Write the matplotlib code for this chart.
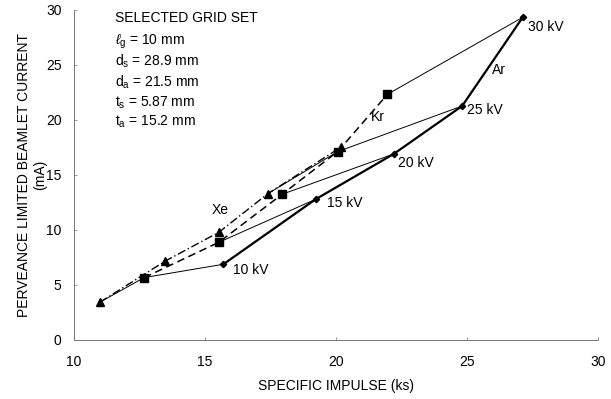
import matplotlib
matplotlib.use("Agg")
import matplotlib.pyplot as plt

plt.rcParams['font.family'] = ['Liberation Sans', 'DejaVu Sans']
plt.rcParams['mathtext.fontset'] = 'custom'
plt.rcParams['mathtext.rm'] = 'Liberation Sans'
plt.rcParams['mathtext.it'] = 'Liberation Sans:italic'

# Beam voltages and specific impulse / perveance-limited current per gas
voltages = ["10 kV", "15 kV", "20 kV", "25 kV", "30 kV"]
ar_isp = [15.70, 19.22, 22.20, 24.81, 27.12]
ar_cur = [6.88, 12.79, 16.91, 21.27, 29.33]
kr_isp = [12.68, 15.53, 17.94, 20.06, 21.96]
kr_cur = [5.67, 8.88, 13.24, 17.12, 22.33]
xe_isp = [10.99, 13.49, 15.53, 17.40, 20.20]
xe_cur = [3.43, 7.18, 9.79, 13.30, 17.55]

grid_lines = ["SELECTED GRID SET",
              r"$\ell_{\mathrm{g}}$ = 10 mm",
              r"d$_{\mathrm{s}}$ = 28.9 mm",
              r"d$_{\mathrm{a}}$ = 21.5 mm",
              r"t$_{\mathrm{s}}$ = 5.87 mm",
              r"t$_{\mathrm{a}}$ = 15.2 mm"]

fig = plt.figure(figsize=(6.11, 3.99), dpi=100)
ax = fig.add_axes([0.121, 0.148, 0.858, 0.827])

fs = 10

# constant-voltage connecting lines
for i in range(len(voltages)):
    ax.plot([ar_isp[i], kr_isp[i]], [ar_cur[i], kr_cur[i]], color='black', lw=0.7)
ax.plot([kr_isp[0], xe_isp[0]], [kr_cur[0], xe_cur[0]], color='black', lw=0.7)
ax.plot([kr_isp[3], xe_isp[3]], [kr_cur[3], xe_cur[3]], color='black', lw=0.7)

# gas curves
ax.plot(ar_isp, ar_cur, color='black', lw=1.6, marker='D', ms=3.2)
ax.plot(kr_isp, kr_cur, color='black', lw=1.1, ls=(0, (5, 3)), marker='s', ms=5.5)
ax.plot(xe_isp, xe_cur, color='black', lw=1.0, ls=(0, (6, 2, 1, 2)), marker='^', ms=5.5)

# voltage labels beside the argon points
offsets = [(0.37, -0.52), (0.44, -0.34), (0.17, -0.8), (0.19, -0.37), (0.21, -0.88)]
for i, v in enumerate(voltages):
    ax.text(ar_isp[i] + offsets[i][0], ar_cur[i] + offsets[i][1], v,
            fontsize=fs, va='center', ha='left')

ax.text(26.2, 24.5, "Ar", fontsize=fs, ha='center', va='center')
ax.text(21.6, 20.3, "Kr", fontsize=fs, ha='center', va='center')
ax.text(15.57, 11.8, "Xe", fontsize=fs, ha='center', va='center')

# grid-set annotation block
ys = [29.25, 27.1, 25.3, 23.45, 21.6, 19.8]
for t, y in zip(grid_lines, ys):
    ax.text(11.56, y, t, fontsize=fs, ha='left', va='center')

ax.set_xlim(10, 30)
ax.set_ylim(0, 30)
ax.set_xticks([10, 15, 20, 25, 30])
ax.set_yticks([0, 5, 10, 15, 20, 25, 30])
ax.tick_params(axis='x', pad=11)
ax.tick_params(axis='y', pad=9)
ax.tick_params(direction='in', length=2, width=0.6, color='#888888',
               labelsize=fs)

for s in ['top', 'right']:
    ax.spines[s].set_visible(False)
for s in ['left', 'bottom']:
    ax.spines[s].set_linestyle((0, (1, 1)))
    ax.spines[s].set_color('#777777')
    ax.spines[s].set_linewidth(0.7)

ax.set_xlabel("SPECIFIC IMPULSE (ks)", fontsize=fs, labelpad=7)
ax.set_ylabel("PERVEANCE LIMITED BEAMLET CURRENT\n(mA)", fontsize=fs,
              labelpad=-1, linespacing=1.2)

fig.savefig("out.png", dpi=100)
